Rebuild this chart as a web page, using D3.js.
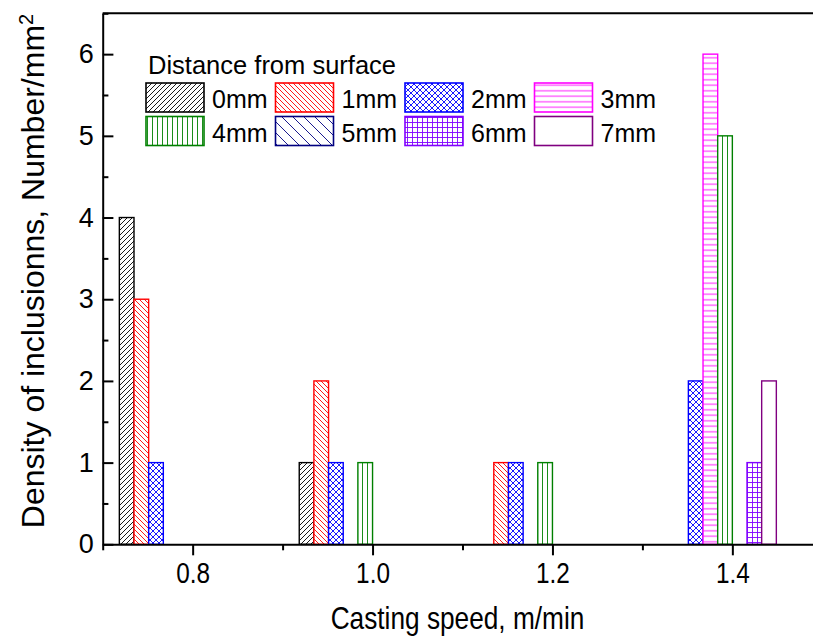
<!DOCTYPE html>
<html>
<head>
<meta charset="utf-8">
<script src="https://cdn.jsdelivr.net/npm/d3@7"></script>
<style>
  html, body { margin: 0; padding: 0; background: #fff; }
  svg { display: block; }
  text { font-family: "Liberation Sans", Arial, sans-serif; fill: #000; }
</style>
</head>
<body>
<svg id="chart" width="813" height="637"></svg>
<script>
// ---------------- data ----------------
const speeds = [0.8, 1.0, 1.2, 1.4];            // casting speed groups (m/min)
const seriesNames = ["0mm", "1mm", "2mm", "3mm", "4mm", "5mm", "6mm", "7mm"];
const s0mm = [4, 1, 0, 0];
const s1mm = [3, 2, 1, 0];
const s2mm = [1, 1, 1, 2];
const s3mm = [0, 0, 0, 6];
const s4mm = [0, 1, 1, 5];
const s5mm = [0, 0, 0, 0];
const s6mm = [0, 0, 0, 1];
const s7mm = [0, 0, 0, 2];
const seriesValues = [s0mm, s1mm, s2mm, s3mm, s4mm, s5mm, s6mm, s7mm];
const xTicks = [0.8, 1.0, 1.2, 1.4];
const xMinorTicks = [0.7, 0.9, 1.1, 1.3, 1.5];
const yTicks = [0, 1, 2, 3, 4, 5, 6];
const yMinorTicks = [0.5, 1.5, 2.5, 3.5, 4.5, 5.5, 6.5];
const legendTitle = "Distance from surface";
const xTitle = "Casting speed, m/min";
const yTitle = "Density of inclusionns, Number/mm";

// ---------------- styles ----------------
const colors = ["#000000", "#ff0000", "#0000ff", "#ff00ff", "#008000", "#000080", "#8000ff", "#800080"];
const patternKinds = ["fwd", "back", "cross", "horiz", "vert", "backWide", "grid", "none"];

// ---------------- layout ----------------
const W = 813, H = 637;
const pLeft = 102.7, pRight = 822.3, pTop = 13.3, pBottom = 544.3;
const barUnit = 0.0163;  // bar width in x units

const svg = d3.select("#chart");
const x = d3.scaleLinear().domain([0.7, 1.5]).range([pLeft, pRight]);
const y = d3.scaleLinear().domain([0, 6.5]).range([pBottom, pTop]);
const bw = x(0.7 + barUnit) - x(0.7);
const band = d3.scaleBand().domain(seriesNames).range([-5 * bw, 3 * bw]).padding(0);

// ---------------- patterns ----------------
const defs = svg.append("defs");
function makePattern(id, kind, color) {
  let p = 5;
  if (kind === "backWide") p = 11;
  if (kind === "cross") p = 6;
  if (kind === "horiz") p = 5.5;
  const pat = defs.append("pattern").attr("id", id)
    .attr("patternUnits", "userSpaceOnUse").attr("width", p).attr("height", p);
  pat.append("rect").attr("width", p).attr("height", p).attr("fill", "#fff");
  const sw = 0.9;
  const add = d => pat.append("path").attr("d", d).attr("stroke", color).attr("stroke-width", sw).attr("fill", "none");
  if (kind === "fwd" || kind === "cross") add(`M${-p/2},${p/2} L${p/2},${-p/2} M0,${p} L${p},0 M${p/2},${1.5*p} L${1.5*p},${p/2}`);
  if (kind === "back" || kind === "backWide" || kind === "cross") add(`M${-p/2},${p/2} L${p/2},${1.5*p} M0,0 L${p},${p} M${p/2},${-p/2} L${1.5*p},${p/2}`);
  if (kind === "horiz" || kind === "grid") add(`M0,${p/2} L${p},${p/2}`);
  if (kind === "vert" || kind === "grid") add(`M${p/2},0 L${p/2},${p}`);
  return kind === "none" ? "#fff" : `url(#${id})`;
}
const fills = seriesNames.map((n, i) => makePattern("pat" + i, patternKinds[i], colors[i]));

// ---------------- bars ----------------
const barData = [];
seriesNames.forEach((name, si) => {
  speeds.forEach((sp, gi) => {
    const v = seriesValues[si][gi];
    if (v > 0) barData.push({ name, si, sp, v });
  });
});
svg.append("g").selectAll("rect").data(barData).join("rect")
  .attr("x", d => x(d.sp) + band(d.name))
  .attr("width", band.bandwidth())
  .attr("y", d => y(d.v))
  .attr("height", d => y(0) - y(d.v))
  .attr("fill", d => fills[d.si])
  .attr("stroke", d => colors[d.si])
  .attr("stroke-width", 1.4);

// ---------------- axes ----------------
const gx = svg.append("g").attr("transform", `translate(0,${pBottom})`)
  .call(d3.axisBottom(x).tickValues(xTicks).tickFormat(d3.format(".1f"))
    .tickSizeInner(11).tickSizeOuter(0).tickPadding(7));
const gxm = svg.append("g").attr("transform", `translate(0,${pBottom})`)
  .call(d3.axisBottom(x).tickValues(xMinorTicks).tickFormat("")
    .tickSizeInner(6).tickSizeOuter(0));
gxm.select(".domain").remove();

const gy = svg.append("g").attr("transform", `translate(${pLeft},0)`)
  .call(d3.axisLeft(y).tickValues(yTicks).tickFormat(d3.format("d"))
    .tickSizeInner(-10.7).tickSizeOuter(0).tickPadding(9));
const gym = svg.append("g").attr("transform", `translate(${pLeft},0)`)
  .call(d3.axisLeft(y).tickValues(yMinorTicks).tickFormat("")
    .tickSizeInner(-5.7).tickSizeOuter(0));
gym.select(".domain").remove();

[gx, gxm, gy, gym].forEach(g => {
  g.selectAll("line").attr("stroke", "#000").attr("stroke-width", 2);
  g.selectAll(".domain").attr("stroke", "#000").attr("stroke-width", 2);
  g.selectAll("text").style("font-family", "'Liberation Sans', Arial, sans-serif").attr("fill", "#000");
});
gx.selectAll("text").style("font-size", "29px").attr("transform", "scale(0.84,1)");
gy.selectAll("text").style("font-size", "27px");

// top & right frame
svg.append("line").attr("x1", pLeft).attr("x2", pRight).attr("y1", pTop).attr("y2", pTop)
  .attr("stroke", "#000").attr("stroke-width", 2);
svg.append("line").attr("x1", pRight).attr("x2", pRight).attr("y1", pTop).attr("y2", pBottom)
  .attr("stroke", "#000").attr("stroke-width", 2);

// ---------------- titles ----------------
svg.append("text")
  .attr("transform", `translate(${(pLeft + pRight) / 2 - 5},629) scale(0.82,1)`)
  .attr("text-anchor", "middle").style("font-size", "32px").text(xTitle);

const yt = svg.append("text")
  .attr("transform", `translate(44,271) rotate(-90)`)
  .attr("text-anchor", "middle").style("font-size", "32px");
yt.append("tspan").text(yTitle);
yt.append("tspan").attr("dy", "-0.55em").style("font-size", "20px").text("2");

// ---------------- legend ----------------
const lg = svg.append("g");
lg.append("text").attr("x", 148).attr("y", 74).style("font-size", "25.5px").text(legendTitle);
const colX = [146, 275.5, 405, 534.5];
const rowY = [83, 116.5];
seriesNames.forEach((name, i) => {
  const cx = colX[i % 4], ry = rowY[Math.floor(i / 4)];
  lg.append("rect").attr("x", cx).attr("y", ry).attr("width", 58).attr("height", 29)
    .attr("fill", fills[i]).attr("stroke", colors[i]).attr("stroke-width", 1.6);
  lg.append("text").attr("x", cx + 66).attr("y", ry + 25).style("font-size", "25px").text(name);
});
</script>
</body>
</html>
